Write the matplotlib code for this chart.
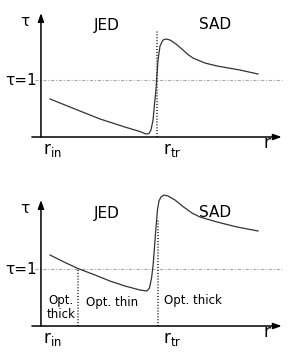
import matplotlib.pyplot as plt

# schematic: r in units of r_tr (y-axis at r=0), tau with tau=1 dashed level
r_top = [0.078, 0.293, 0.509, 0.724, 0.853, 0.905, 0.931, 0.948, 0.966, 0.978, 0.991,
         1.0, 1.009, 1.026, 1.052, 1.078, 1.112, 1.164, 1.224, 1.267, 1.310, 1.414,
         1.517, 1.716, 1.871]
tau_top = [0.667, 0.491, 0.316, 0.175, 0.096, 0.053, 0.061, 0.123, 0.298, 0.561, 0.825,
           1.088, 1.351, 1.596, 1.702, 1.719, 1.702, 1.632, 1.526, 1.447, 1.386, 1.298,
           1.246, 1.175, 1.105]

r_bot = [0.078, 0.198, 0.319, 0.466, 0.595, 0.724, 0.853, 0.914, 0.935, 0.953, 0.966,
         0.978, 0.991, 1.004, 1.017, 1.034, 1.060, 1.095, 1.155, 1.224, 1.302, 1.371,
         1.517, 1.690, 1.871]
tau_bot = [1.246, 1.123, 1.009, 0.895, 0.789, 0.702, 0.632, 0.614, 0.667, 0.842, 1.053,
           1.368, 1.719, 2.035, 2.193, 2.263, 2.298, 2.281, 2.211, 2.096, 1.982, 1.912,
           1.825, 1.737, 1.667]

r_tr_top = 1.004
r_tr_bot = 1.011
r_cross = 0.322

fig = plt.figure(figsize=(2.91, 3.58), dpi=100)
ax1 = fig.add_axes([0, 0.5, 1, 0.5])
ax2 = fig.add_axes([0, 0, 1, 0.5])

curve_col = '#333333'
fs = 11
dots = (0, (0.6, 1.3))


def frame(ax, ytip, ylo, yhi):
    ax.set_xlim(-0.353, 2.155)
    ax.set_ylim(ylo, yhi)
    ax.axis('off')
    ax.annotate('', xy=(2.075, 0), xytext=(-0.078, 0),
                arrowprops=dict(arrowstyle='-|>,head_length=0.5,head_width=0.18',
                                color='black', lw=1.1, shrinkA=0, shrinkB=0))
    ax.annotate('', xy=(0, ytip), xytext=(0, 0),
                arrowprops=dict(arrowstyle='-|>,head_length=0.5,head_width=0.18',
                                color='black', lw=1.1, shrinkA=0, shrinkB=0))
    ax.plot([-0.05, 2.08], [1, 1], color='#aaaaaa', lw=0.8, ls=(0, (3, 1.5, 1, 1.5)))
    ax.text(-0.138, ytip - 0.15, 'τ', fontsize=fs, ha='center', va='center')
    ax.text(-0.172, 1.0, 'τ=1', fontsize=fs, ha='center', va='center')
    ax.text(0.10, -0.22, r'r$_{\rm in}$', fontsize=12, ha='center', va='center')
    ax.text(1.13, -0.23, r'r$_{\rm tr}$', fontsize=12, ha='center', va='center')
    ax.text(1.95, -0.11, 'r', fontsize=12, ha='center', va='center')


frame(ax1, 2.175, -0.737, 2.404)
ax1.plot([r_tr_top, r_tr_top], [0, 1.877], color='black', lw=1.1, ls=dots)
ax1.plot(r_top, tau_top, color=curve_col, lw=0.9)
ax1.text(0.569, 1.965, 'JED', fontsize=fs, ha='center', va='center')
ax1.text(1.5, 1.98, 'SAD', fontsize=fs, ha='center', va='center')

frame(ax2, 2.21, -0.561, 2.579)
ax2.plot([r_tr_bot, r_tr_bot], [0, 1.86], color='black', lw=1.1, ls=dots)
ax2.plot([r_cross, r_cross], [0, 1.0], color='black', lw=1.1, ls=dots)
ax2.plot(r_bot, tau_bot, color=curve_col, lw=0.9)
ax2.text(0.569, 1.98, 'JED', fontsize=fs, ha='center', va='center')
ax2.text(1.5, 2.0, 'SAD', fontsize=fs, ha='center', va='center')
ax2.text(0.172, 0.333, 'Opt.\nthick', fontsize=8.5, ha='center', va='center',
         linespacing=1.1)
ax2.text(0.612, 0.421, 'Opt. thin', fontsize=8.5, ha='center', va='center')
ax2.text(1.31, 0.456, 'Opt. thick', fontsize=8.5, ha='center', va='center')

fig.savefig('out.png', dpi=100)
